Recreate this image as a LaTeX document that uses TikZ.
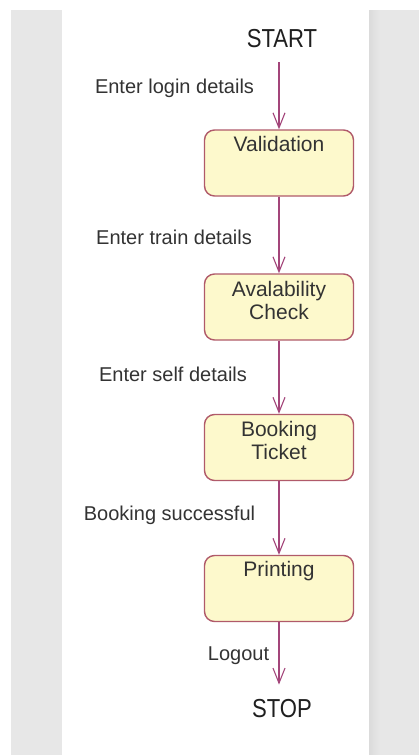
\documentclass[tikz,border=0pt]{standalone}
\usepackage{fontspec}
\setmainfont{Liberation Sans}
\newfontfamily\narrowfont[FakeStretch=0.85]{Liberation Sans}
\usetikzlibrary{arrows.meta}
\definecolor{flow}{HTML}{A3457A}
\definecolor{boxline}{HTML}{B05A6A}
\definecolor{boxfill}{HTML}{FDF9CC}
\definecolor{panelgray}{HTML}{E7E7E7}
\definecolor{labeltext}{HTML}{333333}
\begin{document}
\begin{tikzpicture}[x=1pt,y=-1pt,
  statebox/.style={draw=boxline, fill=boxfill, line width=1.4pt, rounded corners=10pt,
    minimum width=149pt, minimum height=66pt, inner sep=0pt},
  boxtext/.style={font=\fontsize{21}{23}\selectfont, text=labeltext, align=center, inner sep=0pt, anchor=north},
  edgelabel/.style={font=\fontsize{20}{22}\selectfont, text=labeltext, inner sep=0pt, anchor=base},
  terminal/.style={font=\narrowfont\fontsize{26}{28}\selectfont, text=black!88, inner sep=0pt},
  flowarrow/.style={draw=flow, line width=1.2pt, -{Straight Barb[length=15pt,width=12pt,line width=1.1pt]}}]
% background
\useasboundingbox (0,0) rectangle (419,755);
\fill[white] (0,0) rectangle (419,755);
\fill[panelgray] (11,10) rectangle (62,755);
\fill[panelgray] (369,10) rectangle (419,755);
\shade[left color=black!14, right color=panelgray] (369,10) rectangle (380,755);
% terminals
\node[terminal] (start) at (282,39) {START};
\node[terminal] (stop) at (282,709) {STOP};
% states
\node[statebox] (val) at (279,163) {};
\node[boxtext] (valt) at (279,136) {Validation};
\node[statebox] (avl) at (279,307) {};
\node[boxtext] (avlt) at (279,281) {Avalability\\Check};
\node[statebox] (bkg) at (279,447.5) {};
\node[boxtext] (bkgt) at (279,421) {Booking\\Ticket};
\node[statebox] (prt) at (279,588.5) {};
\node[boxtext] (prtt) at (279,561) {Printing};
% edge labels
\node[edgelabel] (l1) at (174.5,93) {Enter login details};
\node[edgelabel] (l2) at (174,244) {Enter train details};
\node[edgelabel] (l3) at (173,381) {Enter self details};
\node[edgelabel] (l4) at (169.5,520) {Booking successful};
\node[edgelabel] (l5) at (238.5,660) {Logout};
% connectors
\draw[flowarrow, shorten <=14pt] (val.north |- start.south) -- (val.north);
\draw[flowarrow] (val.south) -- (avl.north);
\draw[flowarrow] (avl.south) -- (bkg.north);
\draw[flowarrow] (bkg.south) -- (prt.north);
\draw[flowarrow, shorten >=15pt] (prt.south) -- (prt.south |- stop.north);
\end{tikzpicture}
\end{document}
